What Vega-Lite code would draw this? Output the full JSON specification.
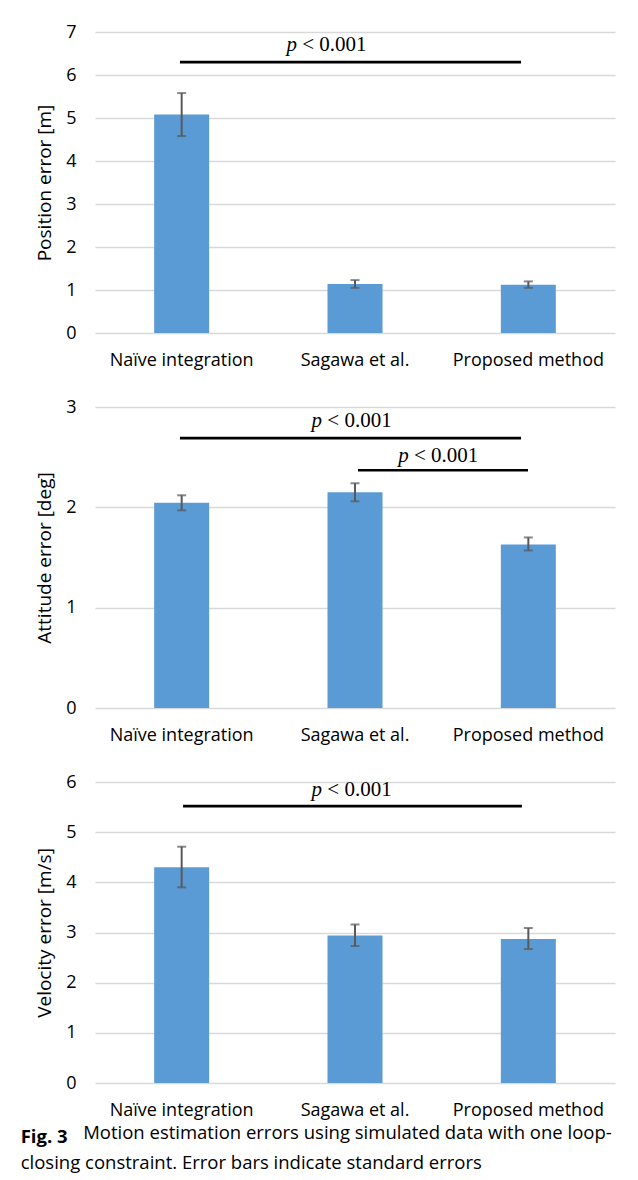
{
  "$schema": "https://vega.github.io/schema/vega-lite/v6.json",
  "padding": {"left": 20, "top": 23, "right": 5, "bottom": 5},
  "background": "white",
  "datasets": {
    "pos": [
      {"method": "Naïve integration", "mean": 5.08, "lo": 4.58, "hi": 5.58},
      {"method": "Sagawa et al.", "mean": 1.14, "lo": 1.05, "hi": 1.23},
      {"method": "Proposed method", "mean": 1.12, "lo": 1.05, "hi": 1.20}
    ],
    "att": [
      {"method": "Naïve integration", "mean": 2.045, "lo": 1.97, "hi": 2.12},
      {"method": "Sagawa et al.", "mean": 2.15, "lo": 2.06, "hi": 2.24},
      {"method": "Proposed method", "mean": 1.63, "lo": 1.57, "hi": 1.70}
    ],
    "vel": [
      {"method": "Naïve integration", "mean": 4.30, "lo": 3.90, "hi": 4.71},
      {"method": "Sagawa et al.", "mean": 2.94, "lo": 2.73, "hi": 3.16},
      {"method": "Proposed method", "mean": 2.87, "lo": 2.67, "hi": 3.09}
    ],
    "posSig": [
      {"x1": 0.49, "x2": 2.458, "ly": 6.30, "tx": 1.165, "ty": 6.70, "p": "p", "rest": "\u200b\u00a0< 0.001"}
    ],
    "attSig": [
      {"x1": 0.49, "x2": 2.458, "ly": 2.69, "tx": 1.31, "ty": 2.86, "p": "p", "rest": "\u200b\u00a0< 0.001"},
      {"x1": 1.517, "x2": 2.498, "ly": 2.37, "tx": 1.81, "ty": 2.51, "p": "p", "rest": "\u200b\u00a0< 0.001"}
    ],
    "velSig": [
      {"x1": 0.508, "x2": 2.463, "ly": 5.52, "tx": 1.31, "ty": 5.84, "p": "p", "rest": "\u200b\u00a0< 0.001"}
    ]
  },
  "title": {
    "text": "Fig. 3",
    "subtitle": ["\u200b\u00a0\u00a0\u00a0\u00a0\u00a0\u00a0\u00a0\u00a0\u00a0\u00a0\u00a0\u00a0\u00a0Motion estimation errors using simulated data with one loop-", "closing constraint. Error bars indicate standard errors"],
    "orient": "bottom",
    "anchor": "start",
    "dx": -15,
    "offset": 9,
    "font": "Open Sans",
    "fontSize": 18.5,
    "fontWeight": "bold",
    "color": "#000",
    "subtitleFont": "Open Sans",
    "subtitleFontSize": 18.5,
    "subtitleColor": "#000",
    "subtitleLineHeight": 30,
    "subtitlePadding": -23
  },
  "spacing": 29,
  "vconcat": [
    {
      "width": 520, "height": 301,
      "resolve": {"scale": {"x": "independent"}},
      "layer": [
        {
          "data": {"name": "pos"},
          "layer": [
            {"mark": {"type": "bar", "size": 55, "color": "#5b9bd5"},
             "encoding": {
               "x": {"field": "method", "type": "nominal", "sort": null, "title": null},
               "y": {"field": "mean", "type": "quantitative", "scale": {"domain": [0, 7]}, "axis": {"values": [0,1,2,3,4,5,6,7], "format": "d"}, "title": "Position error [m]"}}},
            {"mark": {"type": "errorbar", "ticks": {"size": 9}, "thickness": 2, "color": "#595959"},
             "encoding": {
               "x": {"field": "method", "type": "nominal", "sort": null, "title": null},
               "y": {"field": "lo", "type": "quantitative", "title": "Position error [m]"},
               "y2": {"field": "hi"}}}
          ]
        },
        {
          "data": {"name": "posSig"},
          "layer": [
            {"mark": {"type": "rule", "strokeWidth": 2.6, "color": "#000"},
             "encoding": {
               "x": {"field": "x1", "type": "quantitative", "scale": {"domain": [0, 3]}, "axis": null},
               "x2": {"field": "x2"},
               "y": {"field": "ly", "type": "quantitative", "title": "Position error [m]"}}},
            {"mark": {"type": "text", "font": "Liberation Serif", "fontStyle": "italic", "fontSize": 21, "baseline": "middle", "align": "right", "color": "#000"},
             "encoding": {
               "x": {"field": "tx", "type": "quantitative", "scale": {"domain": [0, 3]}, "axis": null},
               "y": {"field": "ty", "type": "quantitative", "title": "Position error [m]"},
               "text": {"field": "p"}}},
            {"mark": {"type": "text", "font": "Liberation Serif", "fontSize": 21, "baseline": "middle", "align": "left", "color": "#000"},
             "encoding": {
               "x": {"field": "tx", "type": "quantitative", "scale": {"domain": [0, 3]}, "axis": null},
               "y": {"field": "ty", "type": "quantitative", "title": "Position error [m]"},
               "text": {"field": "rest"}}}
          ]
        }
      ]
    },
    {
      "width": 520, "height": 301,
      "resolve": {"scale": {"x": "independent"}},
      "layer": [
        {
          "data": {"name": "att"},
          "layer": [
            {"mark": {"type": "bar", "size": 55, "color": "#5b9bd5"},
             "encoding": {
               "x": {"field": "method", "type": "nominal", "sort": null, "title": null},
               "y": {"field": "mean", "type": "quantitative", "scale": {"domain": [0, 3]}, "axis": {"values": [0,1,2,3], "format": "d"}, "title": "Attitude error [deg]"}}},
            {"mark": {"type": "errorbar", "ticks": {"size": 9}, "thickness": 2, "color": "#595959"},
             "encoding": {
               "x": {"field": "method", "type": "nominal", "sort": null, "title": null},
               "y": {"field": "lo", "type": "quantitative", "title": "Attitude error [deg]"},
               "y2": {"field": "hi"}}}
          ]
        },
        {
          "data": {"name": "attSig"},
          "layer": [
            {"mark": {"type": "rule", "strokeWidth": 2.6, "color": "#000"},
             "encoding": {
               "x": {"field": "x1", "type": "quantitative", "scale": {"domain": [0, 3]}, "axis": null},
               "x2": {"field": "x2"},
               "y": {"field": "ly", "type": "quantitative", "title": "Attitude error [deg]"}}},
            {"mark": {"type": "text", "font": "Liberation Serif", "fontStyle": "italic", "fontSize": 21, "baseline": "middle", "align": "right", "color": "#000"},
             "encoding": {
               "x": {"field": "tx", "type": "quantitative", "scale": {"domain": [0, 3]}, "axis": null},
               "y": {"field": "ty", "type": "quantitative", "title": "Attitude error [deg]"},
               "text": {"field": "p"}}},
            {"mark": {"type": "text", "font": "Liberation Serif", "fontSize": 21, "baseline": "middle", "align": "left", "color": "#000"},
             "encoding": {
               "x": {"field": "tx", "type": "quantitative", "scale": {"domain": [0, 3]}, "axis": null},
               "y": {"field": "ty", "type": "quantitative", "title": "Attitude error [deg]"},
               "text": {"field": "rest"}}}
          ]
        }
      ]
    },
    {
      "width": 520, "height": 301,
      "resolve": {"scale": {"x": "independent"}},
      "layer": [
        {
          "data": {"name": "vel"},
          "layer": [
            {"mark": {"type": "bar", "size": 55, "color": "#5b9bd5"},
             "encoding": {
               "x": {"field": "method", "type": "nominal", "sort": null, "title": null},
               "y": {"field": "mean", "type": "quantitative", "scale": {"domain": [0, 6]}, "axis": {"values": [0,1,2,3,4,5,6], "format": "d"}, "title": "Velocity error [m/s]"}}},
            {"mark": {"type": "errorbar", "ticks": {"size": 9}, "thickness": 2, "color": "#595959"},
             "encoding": {
               "x": {"field": "method", "type": "nominal", "sort": null, "title": null},
               "y": {"field": "lo", "type": "quantitative", "title": "Velocity error [m/s]"},
               "y2": {"field": "hi"}}}
          ]
        },
        {
          "data": {"name": "velSig"},
          "layer": [
            {"mark": {"type": "rule", "strokeWidth": 2.6, "color": "#000"},
             "encoding": {
               "x": {"field": "x1", "type": "quantitative", "scale": {"domain": [0, 3]}, "axis": null},
               "x2": {"field": "x2"},
               "y": {"field": "ly", "type": "quantitative", "title": "Velocity error [m/s]"}}},
            {"mark": {"type": "text", "font": "Liberation Serif", "fontStyle": "italic", "fontSize": 21, "baseline": "middle", "align": "right", "color": "#000"},
             "encoding": {
               "x": {"field": "tx", "type": "quantitative", "scale": {"domain": [0, 3]}, "axis": null},
               "y": {"field": "ty", "type": "quantitative", "title": "Velocity error [m/s]"},
               "text": {"field": "p"}}},
            {"mark": {"type": "text", "font": "Liberation Serif", "fontSize": 21, "baseline": "middle", "align": "left", "color": "#000"},
             "encoding": {
               "x": {"field": "tx", "type": "quantitative", "scale": {"domain": [0, 3]}, "axis": null},
               "y": {"field": "ty", "type": "quantitative", "title": "Velocity error [m/s]"},
               "text": {"field": "rest"}}}
          ]
        }
      ]
    }
  ],
  "config": {
    "font": "Open Sans",
    "view": {"stroke": null},
    "axis": {
      "labelFont": "Open Sans",
      "titleFont": "Open Sans",
      "labelColor": "#000",
      "titleColor": "#000",
      "domain": false,
      "ticks": false,
      "gridColor": "#d9d9d9",
      "gridWidth": 1.5
    },
    "axisX": {"labelFontSize": 18, "labelPadding": 18, "grid": false, "labelAngle": 0},
    "axisY": {"labelFontSize": 18, "labelPadding": 19, "titleFontSize": 19, "titleFontWeight": "normal", "titlePadding": 11}
  }
}
